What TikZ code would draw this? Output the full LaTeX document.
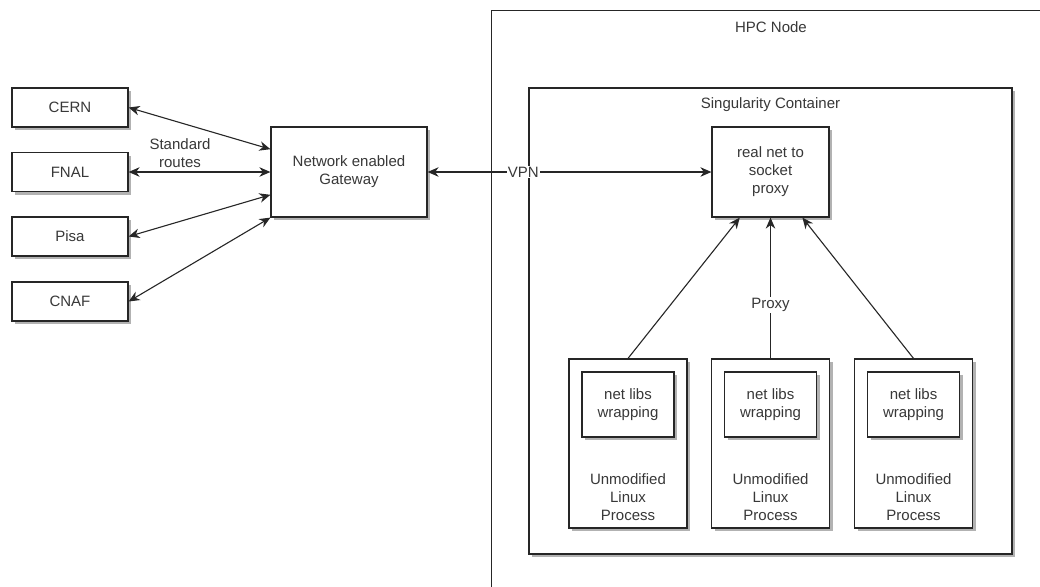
\documentclass[tikz,border=0pt]{standalone}
\usepackage{fontspec}
\setmainfont{Liberation Sans}
\usetikzlibrary{arrows.meta,shadows,calc}
\begin{document}
\begin{tikzpicture}[x=1pt,y=-1pt,
  every node/.style={font=\fontsize{15}{18}\selectfont, text=black!78},
  box/.style={draw=black!85, fill=white, line width=1.2pt, inner sep=0pt, align=center,
    drop shadow={shadow xshift=3pt,shadow yshift=-3pt,fill=black!30,opacity=1}},
  plainbox/.style={draw=black!85, fill=white, line width=1.2pt, inner sep=0pt},
  tip/.tip={Stealth[length=11pt,width=9.5pt,inset=3.5pt]},
  both/.style={draw=black!85, line width=1.1pt, tip-tip},
  single/.style={draw=black!85, line width=1.1pt, -tip},
  lbl/.style={align=center, inner sep=1pt},
  onedge/.style={fill=white, inner sep=1pt}]
\path[use as bounding box, clip] (0,0) rectangle (1040,586);
\fill[white] (0,0) rectangle (1040,586);

% left sites
\node[box, minimum width=116pt, minimum height=39pt] (cern) at (70,107.5) {CERN};
\node[box, minimum width=116pt, minimum height=39pt] (fnal) at (70,172) {FNAL};
\node[box, minimum width=116pt, minimum height=39pt] (pisa) at (70,236.5) {Pisa};
\node[box, minimum width=116pt, minimum height=39pt] (cnaf) at (70,301.5) {CNAF};

% gateway
\node[box, minimum width=156pt, minimum height=90pt] (gw) at (349,172) {Network enabled\\Gateway};

% HPC node
\node[plainbox, anchor=north west, minimum width=620pt, minimum height=640pt] (hpc) at (491,10) {};
\node[lbl] (hpclbl) at (771,27) {HPC Node};

% Singularity container
\node[box, minimum width=483pt, minimum height=466pt] (sing) at (770.5,321) {};
\node[lbl] (singlbl) at (770.5,105) {Singularity Container};

% proxy
\node[box, minimum width=117pt, minimum height=90pt] (proxy) at (770.5,172) {real net to\\socket\\proxy};

% processes
\foreach \i/\x in {1/628,2/770.5,3/913.5}{
  \node[box, minimum width=118pt, minimum height=169pt] (p\i) at (\x,443.5) {};
  \node[box, minimum width=92pt, minimum height=65pt] (w\i) at (\x,404.5) {net libs\\wrapping};
  \node[lbl] (pt\i) at (\x,497) {Unmodified\\Linux\\Process};
}

% site connectors
\draw[both] (cern.east) -- ($(gw.north west)!0.25!(gw.south west)$);
\draw[both] (fnal.east) -- (gw.west);
\draw[both] (pisa.east) -- ($(gw.north west)!0.75!(gw.south west)$);
\draw[both] (cnaf.east) -- (gw.south west);
\node[lbl] (std) at (180,153) {Standard\\routes};

% VPN
\draw[both] (gw.east) -- node[pos=0.337, onedge] (vpn) {VPN} (proxy.west);

% proxy connectors
\draw[single] (p1.north) -- ($(proxy.south west)!0.24!(proxy.south east)$);
\draw[single] (p2.north) -- node[pos=0.38, onedge] (proxylbl) {Proxy} (proxy.south);
\draw[single] (p3.north) -- ($(proxy.south west)!0.77!(proxy.south east)$);
\end{tikzpicture}
\end{document}
